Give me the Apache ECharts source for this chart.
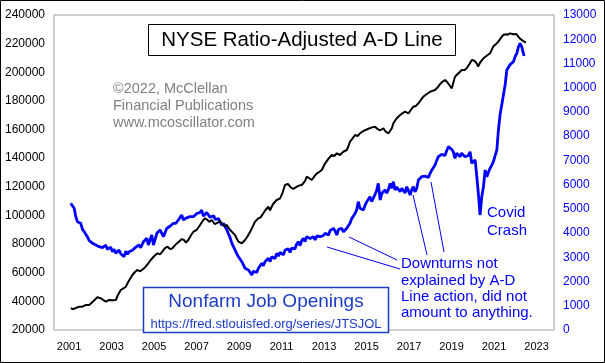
<!DOCTYPE html>
<html><head><meta charset="utf-8">
<script src="https://cdn.jsdelivr.net/npm/echarts@6/dist/echarts.min.js"></script>
<style>html,body{margin:0;padding:0;background:#fff}#c{width:605px;height:363px}</style>
</head><body><div id="c"></div>
<script>
// NYSE Ratio-Adjusted A-D Line (left axis)
const adYears = [2001.08,2001.2,2001.3,2001.47,2001.6,2001.79,2001.86,2001.95,2002.1,2002.2,2002.33,2002.49,2002.6,2002.73,2002.88,2003.05,2003.2,2003.3,2003.43,2003.55,2003.67,2003.8,2003.98,2004.1,2004.21,2004.35,2004.53,2004.7,2004.84,2005.0,2005.16,2005.28,2005.39,2005.5,2005.63,2005.75,2005.86,2006.0,2006.18,2006.3,2006.41,2006.5,2006.61,2006.75,2006.85,2007.0,2007.15,2007.3,2007.4,2007.5,2007.6,2007.72,2007.85,2008.0,2008.1,2008.19,2008.3,2008.42,2008.5,2008.58,2008.7,2008.81,2008.9,2008.97,2009.05,2009.13,2009.2,2009.28,2009.4,2009.52,2009.65,2009.75,2009.9,2010.0,2010.14,2010.25,2010.38,2010.45,2010.6,2010.77,2010.93,2011.05,2011.16,2011.3,2011.4,2011.55,2011.72,2011.85,2011.95,2012.1,2012.19,2012.3,2012.42,2012.55,2012.66,2012.78,2012.89,2013.05,2013.2,2013.36,2013.48,2013.6,2013.75,2013.9,2014.07,2014.15,2014.22,2014.35,2014.46,2014.58,2014.69,2014.85,2015.0,2015.08,2015.25,2015.4,2015.5,2015.64,2015.79,2015.9,2016.03,2016.12,2016.19,2016.26,2016.42,2016.58,2016.7,2016.81,2016.97,2017.1,2017.2,2017.32,2017.44,2017.55,2017.67,2017.8,2017.99,2018.1,2018.22,2018.35,2018.46,2018.58,2018.69,2018.8,2018.93,2019.01,2019.16,2019.3,2019.48,2019.6,2019.71,2019.85,2019.95,2020.08,2020.18,2020.25,2020.35,2020.5,2020.65,2020.81,2020.96,2021.08,2021.2,2021.3,2021.43,2021.55,2021.65,2021.75,2021.9,2022.04,2022.14,2022.22,2022.3,2022.4,2022.5];
const adValues = [35150,34500,35300,36270,36200,37460,36270,37500,39500,41000,42840,42140,41000,39770,40950,40700,40950,44500,47940,49000,50240,54000,58410,60500,61900,61000,63090,66000,68890,71500,73570,72800,74690,77000,78180,76500,77060,79500,81740,83500,82860,81000,82860,86500,88660,89840,93000,96500,98010,97000,95500,96830,94000,95000,96000,94520,92500,93330,91500,89840,88000,86350,83500,81670,82000,80550,81500,82860,85500,88660,92500,95640,98000,98500,101500,104000,106110,103500,108000,110800,111980,116000,121270,122000,120080,118500,120080,121000,121270,124000,127080,126000,124770,127500,129450,130500,131750,136430,139500,142220,141500,143410,142220,144500,145710,148500,151510,154000,156190,155500,157380,159000,160000,160870,161500,161990,160500,159520,160870,158500,157380,157800,160870,164360,167850,170150,171500,172460,171340,174000,175950,176500,178330,180500,182940,184500,186430,187000,187620,189500,191810,193500,194600,193000,190410,188800,196900,199000,201580,201500,202770,206000,208570,208000,206260,204000,207000,209750,211500,213240,217920,219500,221410,223500,226090,226500,226200,227140,226500,226790,224900,223500,222600,221500,220710];

// Nonfarm Job Openings, thousands (right axis)
const joYears = [2001.08,2001.16,2001.24,2001.31,2001.39,2001.47,2001.55,2001.63,2001.71,2001.79,2001.86,2001.94,2002.02,2002.1,2002.18,2002.26,2002.34,2002.41,2002.49,2002.57,2002.65,2002.73,2002.8,2002.88,2002.96,2003.04,2003.12,2003.2,2003.28,2003.35,2003.43,2003.51,2003.59,2003.67,2003.75,2003.82,2003.9,2003.98,2004.06,2004.14,2004.21,2004.29,2004.37,2004.5,2004.66,2004.73,2004.89,2004.97,2005.13,2005.28,2005.44,2005.6,2005.75,2005.91,2006.02,2006.15,2006.3,2006.38,2006.5,2006.69,2006.85,2007.0,2007.08,2007.16,2007.24,2007.32,2007.4,2007.48,2007.56,2007.64,2007.72,2007.8,2007.88,2007.95,2008.03,2008.11,2008.19,2008.27,2008.34,2008.42,2008.5,2008.58,2008.66,2008.73,2008.81,2008.89,2008.97,2009.05,2009.13,2009.2,2009.28,2009.36,2009.44,2009.52,2009.6,2009.67,2009.75,2009.83,2009.91,2009.99,2010.07,2010.14,2010.22,2010.3,2010.38,2010.46,2010.54,2010.62,2010.69,2010.77,2010.85,2010.93,2011.01,2011.09,2011.16,2011.24,2011.32,2011.4,2011.47,2011.55,2011.63,2011.71,2011.79,2011.87,2011.95,2012.03,2012.1,2012.18,2012.26,2012.34,2012.42,2012.5,2012.58,2012.66,2012.73,2012.81,2012.89,2012.97,2013.05,2013.13,2013.21,2013.28,2013.36,2013.44,2013.52,2013.6,2013.68,2013.75,2013.83,2013.91,2013.99,2014.07,2014.14,2014.22,2014.3,2014.38,2014.46,2014.53,2014.61,2014.69,2014.77,2014.85,2014.93,2015.01,2015.09,2015.16,2015.24,2015.32,2015.4,2015.47,2015.55,2015.64,2015.72,2015.8,2015.87,2015.95,2016.03,2016.11,2016.18,2016.26,2016.34,2016.42,2016.5,2016.58,2016.66,2016.73,2016.81,2016.89,2016.97,2017.05,2017.13,2017.2,2017.28,2017.36,2017.44,2017.52,2017.59,2017.67,2017.75,2017.83,2017.91,2017.99,2018.07,2018.14,2018.22,2018.3,2018.38,2018.46,2018.53,2018.61,2018.69,2018.77,2018.85,2018.93,2019.01,2019.08,2019.16,2019.24,2019.32,2019.4,2019.47,2019.55,2019.63,2019.71,2019.79,2019.87,2019.95,2020.03,2020.11,2020.18,2020.26,2020.34,2020.42,2020.5,2020.58,2020.66,2020.73,2020.81,2020.89,2020.97,2021.05,2021.13,2021.2,2021.28,2021.36,2021.44,2021.52,2021.6,2021.67,2021.75,2021.83,2021.91,2021.99,2022.07,2022.15,2022.22,2022.3,2022.38,2022.41];
const joValues = [5229,5120,5023,4700,4470,4520,4403,4150,4057,4100,3850,3700,3650,3578,3640,3508,3560,3440,3508,3400,3438,3500,3330,3372,3420,3231,3330,3165,3100,3302,3150,3080,3025,3250,3120,3231,3300,3290,3372,3420,3460,3508,3400,3644,3784,3508,3921,3508,3991,4127,3850,4197,4280,4403,4403,4550,4746,4540,4620,4676,4676,4800,4746,4850,4952,4700,4746,4850,4816,4650,4610,4720,4560,4540,4600,4540,4313,4400,4263,4150,3962,3800,3578,3450,3302,3150,3025,2950,2819,2700,2546,2600,2476,2380,2270,2420,2476,2380,2546,2500,2753,2650,2819,2900,2959,2820,3025,3100,2950,3165,3050,3200,3231,3100,3300,3231,3350,3200,3380,3438,3350,3550,3644,3480,3700,3785,3650,3850,3921,3780,3700,3850,3720,3880,3800,3850,3920,3900,3991,3991,3920,4100,4050,4197,4080,3921,4150,4197,4197,4050,4127,4200,4300,4403,4600,4700,4816,4950,5295,5023,5100,4952,5150,5295,5350,5501,5300,5365,5600,5750,6054,5365,5642,5700,5778,5650,5800,6054,5850,6120,5778,5900,5800,5708,5850,5778,5650,5914,5750,5571,5800,5914,5700,5848,6191,6150,6327,6250,6350,6397,6300,6467,6603,6700,6810,7000,7152,7100,7250,7292,7200,7400,7565,7565,7450,7358,7086,7300,7292,7150,7300,7222,7150,7086,7200,7358,6880,6950,7016,6397,5642,4746,5501,5914,6603,6327,6500,6673,6800,6946,7200,7429,8213,8873,9286,9698,10111,10730,10800,10950,11007,11073,11279,11420,11692,11832,11692,11420,11308];

const xLabelYears = [2001,2003,2005,2007,2009,2011,2013,2015,2017,2019,2021,2023];

const FONT = '"Liberation Sans", Arial, sans-serif';
const BLUE = '#0000ff';
const BOXBLUE = '#1c3cc8';

const chart = echarts.init(document.getElementById('c'), null, {renderer:'canvas'});
chart.setOption({
  animation: false,
  backgroundColor: '#fff',
  grid: {left:54, right:51, top:15, bottom:33, show:true, borderColor:'#a0a0a0', borderWidth:1, backgroundColor:'transparent'},
  xAxis: {
    type:'value', min:2000.29, max:2023.82,
    axisLine:{show:false}, axisTick:{show:false}, splitLine:{show:false},
    axisLabel:{customValues:xLabelYears, formatter: v => String(Math.round(v)), color:'#000', fontFamily:FONT, fontSize:11, margin:11}
  },
  yAxis: [
    {type:'value', min:20000, max:240000, interval:20000, position:'left',
     axisLine:{show:false}, axisTick:{show:false}, splitLine:{show:false},
     axisLabel:{color:'#000', fontFamily:FONT, fontSize:12, margin:9, formatter: v => String(v)}},
    {type:'value', min:0, max:13000, interval:1000, position:'right',
     axisLine:{show:false}, axisTick:{show:false}, splitLine:{show:false},
     axisLabel:{color:BLUE, fontFamily:FONT, fontSize:12, margin:9, formatter: v => String(v)}}
  ],
  series: [
    {type:'line', yAxisIndex:1, showSymbol:false, data: joYears.map((y,i)=>[y, joValues[i]]),
     lineStyle:{color:BLUE, width:2.8}, z:2},
    {type:'line', yAxisIndex:0, showSymbol:false, data: adYears.map((y,i)=>[y, adValues[i]]),
     lineStyle:{color:'#000', width:2}, z:3}
  ],
  graphic: [
    {type:'rect', shape:{x:0.5,y:0.5,width:604,height:362}, style:{fill:'none', stroke:'#000', lineWidth:1}, z:100},
    {type:'rect', shape:{x:148.5,y:24.5,width:307,height:31}, style:{fill:'#fff', stroke:'#000', lineWidth:1}, z:50},
    {type:'text', x:302, y:40, style:{text:'NYSE Ratio-Adjusted A-D Line', font:'20.5px '+FONT, fill:'#000', textAlign:'center', textVerticalAlign:'middle'}, z:51},
    {type:'text', x:113, y:89, style:{text:'©2022, McClellan', font:'14.5px '+FONT, fill:'#808080', textAlign:'left', textVerticalAlign:'middle'}, z:51},
    {type:'text', x:113, y:106, style:{text:'Financial Publications', font:'14.5px '+FONT, fill:'#808080', textAlign:'left', textVerticalAlign:'middle'}, z:51},
    {type:'text', x:113, y:123, style:{text:'www.mcoscillator.com', font:'14.5px '+FONT, fill:'#808080', textAlign:'left', textVerticalAlign:'middle'}, z:51},
    {type:'rect', shape:{x:143.5,y:287.5,width:245,height:45}, style:{fill:'#fff', stroke:BOXBLUE, lineWidth:1.5}, z:50},
    {type:'text', x:266, y:302, style:{text:'Nonfarm Job Openings', font:'19px '+FONT, fill:BOXBLUE, textAlign:'center', textVerticalAlign:'middle'}, z:51},
    {type:'text', x:266, y:324, style:{text:'https://fred.stlouisfed.org/series/JTSJOL', font:'13px '+FONT, fill:BOXBLUE, textAlign:'center', textVerticalAlign:'middle'}, z:51},
    {type:'text', x:487, y:213, style:{text:'Covid', font:'15px '+FONT, fill:BLUE, textAlign:'left', textVerticalAlign:'middle'}, z:51},
    {type:'text', x:487, y:231, style:{text:'Crash', font:'15px '+FONT, fill:BLUE, textAlign:'left', textVerticalAlign:'middle'}, z:51},
    {type:'text', x:401, y:264, style:{text:'Downturns not', font:'15px '+FONT, fill:BLUE, textAlign:'left', textVerticalAlign:'middle'}, z:51},
    {type:'text', x:401, y:280.5, style:{text:'explained by A-D', font:'15px '+FONT, fill:BLUE, textAlign:'left', textVerticalAlign:'middle'}, z:51},
    {type:'text', x:401, y:297, style:{text:'Line action, did not', font:'15px '+FONT, fill:BLUE, textAlign:'left', textVerticalAlign:'middle'}, z:51},
    {type:'text', x:401, y:313, style:{text:'amount to anything.', font:'15px '+FONT, fill:BLUE, textAlign:'left', textVerticalAlign:'middle'}, z:51},
    {type:'line', shape:{x1:327,y1:247,x2:400,y2:269}, style:{stroke:BLUE, lineWidth:1}, z:51},
    {type:'line', shape:{x1:349,y1:237,x2:397,y2:260}, style:{stroke:BLUE, lineWidth:1}, z:51},
    {type:'line', shape:{x1:413,y1:195,x2:427,y2:255}, style:{stroke:BLUE, lineWidth:1}, z:51},
    {type:'line', shape:{x1:431,y1:182,x2:444,y2:252}, style:{stroke:BLUE, lineWidth:1}, z:51}
  ]
});
</script></body></html>
